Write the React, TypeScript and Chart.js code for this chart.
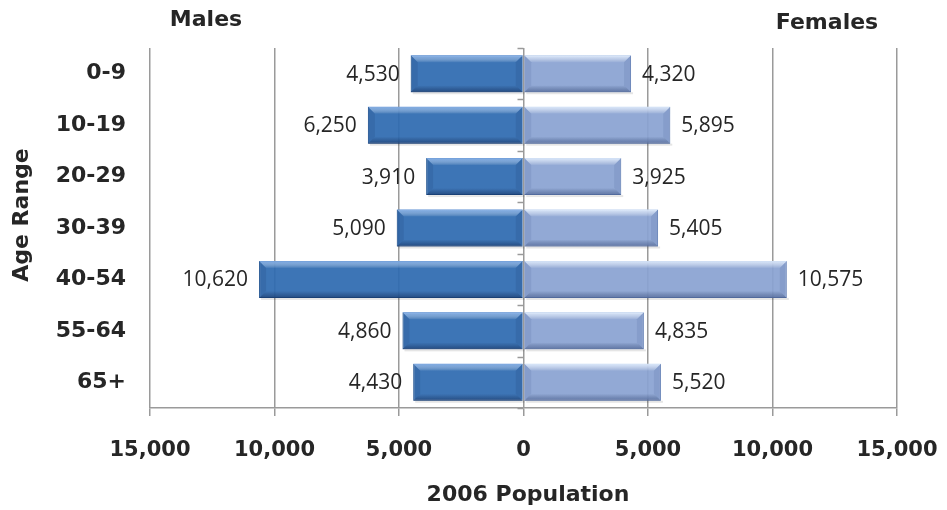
import React, { useEffect, useRef } from "react";
import { Chart, registerables } from "chart.js";

Chart.register(...registerables);

const ageRanges = ["0-9", "10-19", "20-29", "30-39", "40-54", "55-64", "65+"];
const males = [4530, 6250, 3910, 5090, 10620, 4860, 4430];
const females = [4320, 5895, 3925, 5405, 10575, 4835, 5520];
const xTicks = [-15000, -10000, -5000, 0, 5000, 10000, 15000];

const BOLD = "'DejaVu Sans', sans-serif";
const REG = "'Open Sans', sans-serif";
const TEXT = "#262626";

const fmt = (v: number) => Math.abs(v).toLocaleString("en-US");

const overlayPlugin = {
  id: "overlay",
  afterDatasetsDraw(chart: any) {
    const ctx = chart.ctx;
    const area = chart.chartArea;
    const xs = chart.scales.x;
    const zeroX = xs.getPixelForValue(0);

    // small tick marks on the zero axis
    ctx.save();
    ctx.strokeStyle = "#9a9a9a";
    ctx.lineWidth = 1.5;
    const n = ageRanges.length;
    const step = (area.bottom - area.top) / n;
    for (let i = 0; i <= n; i++) {
      const y = Math.round(area.top + i * step) + 0.5;
      ctx.beginPath();
      ctx.moveTo(zeroX - 6, y);
      ctx.lineTo(zeroX, y);
      ctx.stroke();
    }
    ctx.restore();

    // bevel effect on bars
    chart.data.datasets.forEach((ds: any, di: number) => {
      const meta = chart.getDatasetMeta(di);
      const topC = di === 0 ? "rgba(130,175,235,0.85)" : "rgba(225,238,255,0.9)";
      const botC = di === 0 ? "rgba(15,40,85,0.55)" : "rgba(50,70,120,0.5)";
      const sideC = di === 0 ? "rgba(20,50,100,0.15)" : "rgba(60,85,140,0.15)";
      meta.data.forEach((bar: any) => {
        const p = bar.getProps(["x", "y", "base", "height"], true);
        const l = Math.min(p.x, p.base);
        const r = Math.max(p.x, p.base);
        const t = p.y - p.height / 2;
        const b = p.y + p.height / 2;
        const bev = 7;
        ctx.save();
        // shadow under bar
        ctx.fillStyle = "rgba(0,0,0,0.10)";
        ctx.fillRect(l + 2, b, r - l, 2);
        // top bevel
        let g = ctx.createLinearGradient(0, t, 0, t + bev);
        g.addColorStop(0, topC);
        g.addColorStop(1, "rgba(255,255,255,0.05)");
        ctx.fillStyle = g;
        ctx.beginPath();
        ctx.moveTo(l, t);
        ctx.lineTo(r, t);
        ctx.lineTo(r - bev, t + bev);
        ctx.lineTo(l + bev, t + bev);
        ctx.closePath();
        ctx.fill();
        // bottom bevel
        g = ctx.createLinearGradient(0, b - bev, 0, b);
        g.addColorStop(0, "rgba(20,40,80,0.0)");
        g.addColorStop(1, botC);
        ctx.fillStyle = g;
        ctx.beginPath();
        ctx.moveTo(l, b);
        ctx.lineTo(r, b);
        ctx.lineTo(r - bev, b - bev);
        ctx.lineTo(l + bev, b - bev);
        ctx.closePath();
        ctx.fill();
        // side bevels
        ctx.fillStyle = sideC;
        ctx.beginPath();
        ctx.moveTo(l, t);
        ctx.lineTo(l + bev, t + bev);
        ctx.lineTo(l + bev, b - bev);
        ctx.lineTo(l, b);
        ctx.closePath();
        ctx.fill();
        ctx.beginPath();
        ctx.moveTo(r, t);
        ctx.lineTo(r - bev, t + bev);
        ctx.lineTo(r - bev, b - bev);
        ctx.lineTo(r, b);
        ctx.closePath();
        ctx.fill();
        ctx.restore();
      });
    });

    // data labels
    ctx.save();
    ctx.font = `21px ${REG}`;
    ctx.fillStyle = TEXT;
    ctx.textBaseline = "middle";
    chart.data.datasets.forEach((ds: any, di: number) => {
      const meta = chart.getDatasetMeta(di);
      meta.data.forEach((bar: any, i: number) => {
        const v = ds.data[i];
        if (di === 0) {
          ctx.textAlign = "right";
          ctx.fillText(fmt(v), bar.x - 11, bar.y + 1);
        } else {
          ctx.textAlign = "left";
          ctx.fillText(fmt(v), bar.x + 11, bar.y + 1);
        }
      });
    });
    ctx.restore();

    // titles
    ctx.save();
    ctx.fillStyle = TEXT;
    ctx.font = `bold 22px ${BOLD}`;
    ctx.textAlign = "center";
    ctx.textBaseline = "middle";
    ctx.fillText("Males", 206, 20);
    ctx.fillText("Females", 827, 23);
    ctx.fillText("2006 Population", 528, 495);
    ctx.translate(22, 215);
    ctx.rotate(-Math.PI / 2);
    ctx.fillText("Age Range", 0, 0);
    ctx.restore();
  },
};

export default function App() {
  const ref = useRef<HTMLCanvasElement | null>(null);
  useEffect(() => {
    if (!ref.current) return;
    const chart = new Chart(ref.current, {
      type: "bar",
      data: {
        labels: ageRanges,
        datasets: [
          {
            label: "Males",
            data: males.map((v) => -v),
            backgroundColor: "rgba(46,106,176,0.93)",
            borderColor: "#245a99",
            borderWidth: 1,
            barPercentage: 0.9,
            categoryPercentage: 0.8,
          },
          {
            label: "Females",
            data: females,
            backgroundColor: "rgba(138,163,210,0.93)",
            borderColor: "#6f8cc0",
            borderWidth: 1,
            barPercentage: 0.9,
            categoryPercentage: 0.8,
          },
        ],
      },
      options: {
        indexAxis: "y",
        animation: false,
        responsive: false,
        maintainAspectRatio: false,
        layout: { padding: { left: 0, right: 50, top: 48, bottom: 0 } },
        plugins: { legend: { display: false }, tooltip: { enabled: false } },
        scales: {
          x: {
            stacked: true,
            min: -15000,
            max: 15000,
            afterBuildTicks: (s: any) => {
              s.ticks = xTicks.map((v) => ({ value: v }));
            },
            afterFit: (s: any) => {
              s.height = 102;
              s.paddingLeft = 0;
              s.paddingRight = 0;
            },
            ticks: {
              callback: (v: any) => fmt(Number(v)),
              font: { family: BOLD, size: 21, weight: "bold" },
              color: TEXT,
              padding: 22,
              maxRotation: 0,
            },
            grid: { color: "#9a9a9a", lineWidth: 1.5, tickLength: 8 },
            border: { display: true, color: "#9a9a9a", width: 1.5 },
          },
          y: {
            stacked: true,
            afterFit: (s: any) => {
              s.width = 150;
              s.paddingTop = 0;
              s.paddingBottom = 0;
            },
            ticks: {
              font: { family: BOLD, size: 22, weight: "bold" },
              color: TEXT,
              padding: 24,
            },
            grid: { display: false, drawTicks: false },
            border: { display: false },
          },
        },
      },
      plugins: [overlayPlugin],
    } as any);
    return () => chart.destroy();
  }, []);
  return (
    <div style={{ position: "absolute", left: 0, top: 0, width: 947, height: 510, background: "#fff" }}>
      <canvas ref={ref} width={947} height={510} style={{ width: 947, height: 510 }} />
    </div>
  );
}
